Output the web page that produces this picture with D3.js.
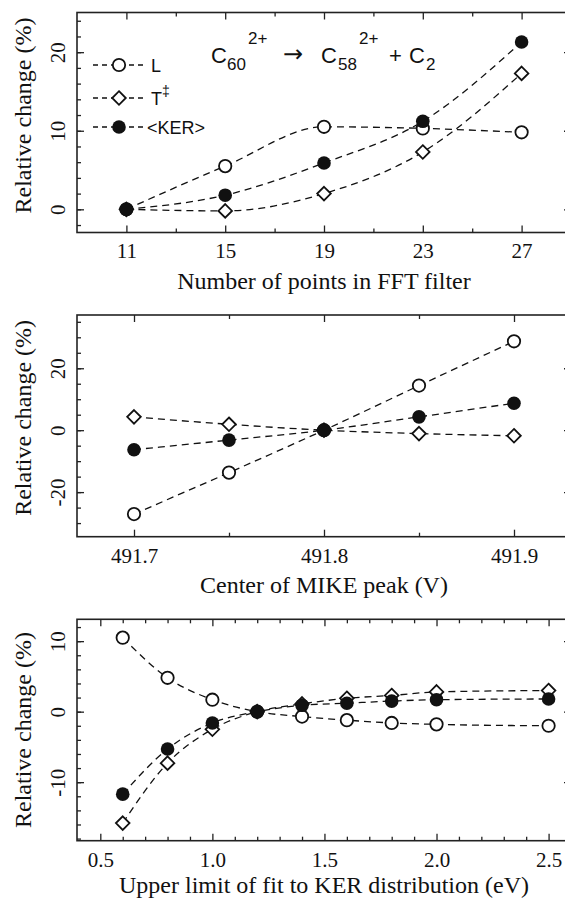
<!DOCTYPE html>
<html>
<head>
<meta charset="utf-8">
<script src="https://cdn.jsdelivr.net/npm/d3@7"></script>
<style>
  body { margin: 0; background: #fff; }
  svg { display: block; }
  .tick text { font-family: "Liberation Serif", "Times New Roman", serif; font-size: 21px; fill: #111; }
  .tick line { stroke: #222; stroke-width: 1.3; }
  .axis-title { font-family: "Liberation Serif", "Times New Roman", serif; font-size: 24px; fill: #111; }
</style>
</head>
<body>
<div id="chart"></div>
<script>
// -------- Data --------
const fftPoints = [11, 15, 19, 23, 27];
const fftL   = [0, 5.5, 10.5, 10.3, 9.8];
const fftT   = [0, -0.2, 2.0, 7.3, 17.3];
const fftKER = [0, 1.8, 5.9, 11.2, 21.3];

const mikeCenter = [491.7, 491.75, 491.8, 491.85, 491.9];
const mikeL   = [-27.1, -13.7, 0, 14.4, 28.7];
const mikeT   = [4.3, 1.9, 0, -1.1, -1.8];
const mikeKER = [-6.3, -3.2, 0, 4.3, 8.7];

const kerLimit = [0.6, 0.8, 1.0, 1.2, 1.4, 1.6, 1.8, 2.0, 2.5];
const kerL   = [10.5, 4.8, 1.7, 0, -0.7, -1.2, -1.6, -1.8, -2.0];
const kerT   = [-15.8, -7.3, -2.5, 0, 1.1, 1.9, 2.3, 2.8, 3.0];
const kerKER = [-11.7, -5.3, -1.6, 0, 0.9, 1.2, 1.5, 1.7, 1.8];

// -------- Tick labels --------
const fftXTicks  = [11, 15, 19, 23, 27];
const fftYTicks  = [0, 10, 20];
const mikeXTicks = [491.7, 491.8, 491.9];
const mikeYTicks = [-20, 0, 20];
const kerXTicks  = [0.5, 1.0, 1.5, 2.0, 2.5];
const kerYTicks  = [-10, 0, 10];

const seriesNames = ['L', 'T', 'KER'];

// -------- Layout --------
const svgWidth = 565, svgHeight = 900;
const left = 77, right = 571;

const svg = d3.select('#chart')
  .append('svg')
    .attr('width', svgWidth)
    .attr('height', svgHeight);

const panels = [
  {
    top: 12.5, bottom: 232.5,
    xDomain: [9, 29], yDomain: [-2.95, 25.05],
    xs: fftPoints, ys: [fftL, fftT, fftKER],
    xMajor: fftXTicks, xMinor: [13, 17, 21, 25], xFmt: d3.format('d'),
    yMajor: fftYTicks, yMinor: d3.range(-2, 25, 2),
    title: 'Number of points in FFT filter', titleDy: 56, yTitleShift: -7
  },
  {
    top: 315, bottom: 536.7,
    xDomain: [491.67, 491.93], yDomain: [-34.4, 37.2],
    xs: mikeCenter, ys: [mikeL, mikeT, mikeKER],
    xMajor: mikeXTicks, xMinor: [491.75, 491.85], xFmt: d3.format('.1f'),
    yMajor: mikeYTicks, yMinor: d3.range(-30, 36, 5),
    title: 'Center of MIKE peak (V)', titleDy: 56, yTitleShift: -8
  },
  {
    top: 619.3, bottom: 840.7,
    xDomain: [0.396, 2.6], yDomain: [-18.3, 13.1],
    xs: kerLimit, ys: [kerL, kerT, kerKER],
    xMajor: kerXTicks, xMinor: d3.range(0.6, 2.45, 0.1).filter(v => Math.abs(v * 2 - Math.round(v * 2)) > 0.01),
    xFmt: d3.format('.1f'),
    yMajor: kerYTicks, yMinor: d3.range(-18, 13, 2),
    title: 'Upper limit of fit to KER distribution (eV)', titleDy: 52, yTitleShift: 0
  }
];

function drawMarker(g, kind) {
  if (kind === 'L') {
    g.append('circle').attr('r', 6.2)
      .attr('fill', '#fff').attr('stroke', '#111').attr('stroke-width', 1.8);
  } else if (kind === 'T') {
    g.append('path').attr('d', 'M0,-6.8L6.8,0L0,6.8L-6.8,0Z')
      .attr('fill', '#fff').attr('stroke', '#111').attr('stroke-width', 1.8);
  } else {
    g.append('circle').attr('r', 6.8).attr('fill', '#111');
  }
}

panels.forEach(p => {
  const x = d3.scaleLinear().domain(p.xDomain).range([left, right]);
  const y = d3.scaleLinear().domain(p.yDomain).range([p.bottom, p.top]);
  const g = svg.append('g');

  // frame
  g.append('rect')
    .attr('x', left).attr('y', p.top)
    .attr('width', right - left).attr('height', p.bottom - p.top)
    .attr('fill', 'none').attr('stroke', '#222').attr('stroke-width', 1.6);

  // bottom axis (major + minor)
  const bx = g.append('g').attr('transform', `translate(0,${p.bottom})`);
  bx.call(d3.axisBottom(x).tickValues(p.xMajor).tickFormat(p.xFmt).tickSize(-7).tickPadding(11));
  bx.append('g').call(d3.axisBottom(x).tickValues(p.xMinor).tickFormat('').tickSize(-4));

  // top axis ticks
  const tx = g.append('g').attr('transform', `translate(0,${p.top})`);
  tx.call(d3.axisTop(x).tickValues(p.xMajor).tickFormat('').tickSize(-7));
  tx.append('g').call(d3.axisTop(x).tickValues(p.xMinor).tickFormat('').tickSize(-4));

  // left axis (major + minor), rotated labels with plain hyphen
  const ly = g.append('g').attr('transform', `translate(${left},0)`);
  ly.call(d3.axisLeft(y).tickValues(p.yMajor).tickFormat(d => String(d)).tickSize(-7));
  ly.selectAll('.tick text')
    .attr('transform', 'rotate(-90)')
    .attr('x', 0).attr('y', -12).attr('dy', 0)
    .style('text-anchor', 'middle');
  ly.append('g').call(d3.axisLeft(y).tickValues(p.yMinor).tickFormat('').tickSize(-4));

  // right axis ticks
  g.append('g').attr('transform', `translate(${right},0)`)
    .call(d3.axisRight(y).tickValues(p.yMajor).tickFormat('').tickSize(-7));

  g.selectAll('.domain').remove();

  // axis titles
  g.append('text').attr('class', 'axis-title')
    .attr('x', (left + right) / 2).attr('y', p.bottom + p.titleDy)
    .attr('text-anchor', 'middle')
    .text(p.title);

  g.append('text').attr('class', 'axis-title')
    .attr('transform', `translate(31,${(p.top + p.bottom) / 2 + p.yTitleShift}) rotate(-90)`)
    .attr('text-anchor', 'middle')
    .text('Relative change (%)');

  // dashed curves
  const line = d3.line()
    .x(d => x(d[0]))
    .y(d => y(d[1]))
    .curve(d3.curveMonotoneX);

  p.ys.forEach(vals => {
    g.append('path')
      .datum(p.xs.map((v, i) => [v, vals[i]]))
      .attr('d', line)
      .attr('fill', 'none')
      .attr('stroke', '#111')
      .attr('stroke-width', 1.3)
      .attr('stroke-dasharray', '7,5');
  });

  // markers
  p.ys.forEach((vals, k) => {
    p.xs.forEach((v, i) => {
      const m = g.append('g').attr('transform', `translate(${x(v)},${y(vals[i])})`);
      drawMarker(m, seriesNames[k]);
    });
  });
});

// -------- Legend (top panel) --------
const legendRows = [
  { kind: 'L', y: 65, label: 'L' },
  { kind: 'T', y: 98, label: 'T' },
  { kind: 'KER', y: 127, label: '<KER>' }
];
const legend = svg.append('g')
  .style('font-family', '"Liberation Sans", Arial, sans-serif')
  .style('font-size', '18px');

legendRows.forEach(r => {
  legend.append('line')
    .attr('x1', 93).attr('x2', 145).attr('y1', r.y).attr('y2', r.y)
    .attr('stroke', '#111').attr('stroke-width', 1.3)
    .attr('stroke-dasharray', '5,4');
  drawMarker(legend.append('g').attr('transform', `translate(119,${r.y})`), r.kind);
  const t = legend.append('text')
    .attr('x', r.kind === 'KER' ? 147 : 151).attr('y', r.y + 7)
    .attr('fill', '#111')
    .text(r.label);
  if (r.kind === 'T') {
    t.append('tspan').attr('dy', -9).style('font-size', '14px').text('\u2021');
  }
});

// -------- Reaction label --------
const rx = svg.append('g')
  .style('font-family', '"Liberation Sans", Arial, sans-serif')
  .attr('fill', '#111');
const parts = [
  { t: 'C', x: 211, y: 63, s: 22 },
  { t: '60', x: 227, y: 70, s: 17 },
  { t: '2+', x: 248, y: 44, s: 17 },
  { t: '\u2192', x: 283, y: 62, s: 24, f: '"DejaVu Sans", sans-serif' },
  { t: 'C', x: 321, y: 63, s: 22 },
  { t: '58', x: 338, y: 70, s: 17 },
  { t: '2+', x: 359, y: 44, s: 17 },
  { t: '+', x: 389, y: 63, s: 22 },
  { t: 'C', x: 409, y: 63, s: 22 },
  { t: '2', x: 426, y: 70, s: 17 }
];
parts.forEach(d => {
  const t = rx.append('text').attr('x', d.x).attr('y', d.y)
    .style('font-size', d.s + 'px').text(d.t);
  if (d.f) t.style('font-family', d.f);
});
</script>
</body>
</html>
